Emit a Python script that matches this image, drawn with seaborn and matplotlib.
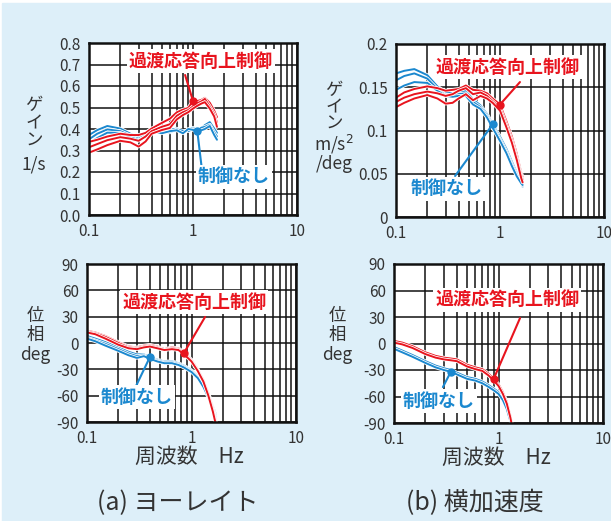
import numpy as np
import pandas as pd
import matplotlib
matplotlib.use("Agg")
import matplotlib.pyplot as plt
import matplotlib.patheffects as pe
import seaborn as sns
from matplotlib.patches import Rectangle
from matplotlib.ticker import LogLocator, NullFormatter

sns.set_theme(style="white")
plt.rcParams['font.family'] = ['Noto Sans CJK JP', 'DejaVu Sans']

RED = '#e8141e'
BLUE = '#1b88cf'
BG = '#ddeff9'
TXT = '#333333'
GRID = '#111111'

# ---- (a) yaw rate gain [1/s] ----
yaw_gain_freq = [0.1, 0.12, 0.15, 0.2, 0.25, 0.3, 0.35, 0.4, 0.5, 0.6,
                 0.7, 0.8, 0.9, 1.0, 1.1, 1.2, 1.3, 1.45, 1.6, 1.7]
yaw_gain_ctrl = [
    [0.340, 0.350, 0.365, 0.378, 0.372, 0.372, 0.382, 0.402, 0.428, 0.448,
     0.478, 0.490, 0.498, 0.530, 0.530, 0.535, 0.545, 0.522, 0.485, 0.455],
    [0.315, 0.330, 0.348, 0.362, 0.355, 0.345, 0.365, 0.390, 0.410, 0.422,
     0.462, 0.478, 0.488, 0.505, 0.520, 0.528, 0.540, 0.505, 0.470, 0.430],
    [0.290, 0.305, 0.325, 0.345, 0.338, 0.318, 0.342, 0.378, 0.395, 0.405,
     0.445, 0.465, 0.478, 0.495, 0.508, 0.518, 0.525, 0.495, 0.458, 0.410],
]
yaw_gain_none = [
    [0.372, 0.395, 0.414, 0.402, 0.378, 0.362, 0.382, 0.402, 0.386, 0.396,
     0.402, 0.386, 0.396, 0.406, 0.390, 0.402, 0.418, 0.432, 0.402, 0.382],
    [0.352, 0.378, 0.398, 0.390, 0.370, 0.354, 0.374, 0.396, 0.390, 0.384,
     0.398, 0.392, 0.390, 0.400, 0.388, 0.406, 0.410, 0.420, 0.385, 0.365],
    [0.333, 0.358, 0.383, 0.382, 0.362, 0.348, 0.366, 0.392, 0.380, 0.390,
     0.394, 0.380, 0.400, 0.396, 0.384, 0.394, 0.400, 0.414, 0.372, 0.350],
]

# ---- (b) lateral acceleration gain [m/s^2/deg] ----
lat_gain_freq = [0.1, 0.12, 0.15, 0.2, 0.25, 0.3, 0.35, 0.4, 0.47, 0.55,
                 0.65, 0.75, 0.85, 1.0, 1.15, 1.3, 1.45, 1.6, 1.65]
lat_gain_ctrl = [
    [0.138, 0.144, 0.148, 0.151, 0.149, 0.146, 0.147, 0.148, 0.152, 0.147,
     0.146, 0.143, 0.137, 0.130, 0.111, 0.093, 0.073, 0.051, 0.046],
    [0.133, 0.138, 0.142, 0.145, 0.143, 0.140, 0.142, 0.146, 0.149, 0.142,
     0.144, 0.140, 0.134, 0.126, 0.107, 0.089, 0.069, 0.048, 0.043],
    [0.127, 0.132, 0.137, 0.141, 0.137, 0.131, 0.132, 0.137, 0.142, 0.135,
     0.140, 0.137, 0.132, 0.123, 0.104, 0.086, 0.066, 0.045, 0.040],
]
lat_gain_none = [
    [0.166, 0.169, 0.171, 0.164, 0.151, 0.144, 0.143, 0.144, 0.146, 0.136,
     0.129, 0.119, 0.107, 0.093, 0.079, 0.064, 0.051, 0.039, 0.035],
    [0.158, 0.163, 0.166, 0.160, 0.148, 0.141, 0.141, 0.142, 0.143, 0.133,
     0.127, 0.117, 0.105, 0.090, 0.076, 0.061, 0.049, 0.040, 0.036],
    [0.147, 0.152, 0.156, 0.155, 0.146, 0.140, 0.139, 0.140, 0.140, 0.130,
     0.125, 0.115, 0.103, 0.088, 0.074, 0.059, 0.047, 0.039, 0.037],
]

# ---- (a) yaw rate phase [deg] ----
yaw_phase_freq = [0.1, 0.12, 0.15, 0.2, 0.25, 0.3, 0.35, 0.4, 0.47, 0.55,
                  0.65, 0.75, 0.85, 1.0, 1.15, 1.3, 1.45, 1.6, 1.72]
yaw_phase_ctrl = [
    [14, 12, 8, 1, -4, -5, -3, -2, -4, -7, -5, -6, -11, -19, -30, -42, -57, -74, -90],
    [13, 11, 7, 0, -5, -6, -4, -3, -5, -8, -6, -7, -12, -20, -31, -43, -58, -76, -92],
    [12, 10, 5, -2, -6, -7, -5, -4, -6, -8, -7, -8, -13, -21, -32, -44, -60, -78, -94],
]
yaw_phase_none = [
    [8, 5, 1, -5, -10, -13, -13, -16, -19, -21, -21, -23, -26, -31, -38, -47, -58, -72, -82],
    [6, 3, -1, -7, -12, -15, -14, -17, -20, -22, -22, -24, -27, -32, -39, -48, -60, -74, -84],
    [5, 2, -3, -9, -14, -17, -15, -18, -21, -23, -23, -25, -28, -33, -40, -50, -62, -76, -86],
]

# ---- (b) lateral acceleration phase [deg] ----
lat_phase_freq = [0.1, 0.12, 0.15, 0.2, 0.25, 0.3, 0.35, 0.4, 0.5, 0.6,
                  0.7, 0.8, 0.9, 1.0, 1.1, 1.2, 1.3, 1.36]
lat_phase_ctrl = [
    [3, 1, -3, -10, -14, -16, -17, -18, -24, -27, -29, -34, -40, -46, -55, -66, -82, -94],
    [1, -1, -5, -12, -16, -18, -19, -20, -26, -29, -31, -36, -42, -48, -57, -68, -84, -96],
]
lat_phase_none = [
    [-4, -8, -13, -20, -25, -28, -30, -33, -38, -40, -43, -47, -51, -55, -62, -72, -86, -96],
    [-6, -10, -15, -22, -27, -30, -32, -35, -40, -42, -45, -49, -53, -57, -64, -74, -88, -98],
]

LBL_CTRL = '過渡応答向上制御'
LBL_NONE = '制御なし'

W, H = 611, 521
fig = plt.figure(figsize=(W / 100, H / 100), dpi=100, facecolor='white')
fig.patches.append(Rectangle((2 / W, 0), 1 - 2 / W, 1 - 3 / H,
                             transform=fig.transFigure, color=BG, zorder=-5))


def px_rect(x0, x1, y0, y1):
    return [x0 / W, 1 - y1 / H, (x1 - x0) / W, (y1 - y0) / H]


def fig_text(x, y, s, **kw):
    fig.text(x / W, 1 - y / H, s, ha='center', va='center', color=TXT, **kw)


def long_table(freq, ctrl, none):
    rows = []
    for i, run in enumerate(none):
        for f, v in zip(freq, run):
            rows.append(('none', f'n{i}', f, v))
    for i, run in enumerate(ctrl):
        for f, v in zip(freq, run):
            rows.append(('ctrl', f'c{i}', f, v))
    return pd.DataFrame(rows, columns=['group', 'run', 'freq', 'value'])


def panel(rect, freq, ctrl, none, ylim, yticks, ylabels):
    ax = fig.add_axes(rect)
    df = long_table(freq, ctrl, none)
    sns.lineplot(data=df, x='freq', y='value', hue='group', units='run',
                 estimator=None, hue_order=['none', 'ctrl'],
                 palette={'ctrl': RED, 'none': BLUE}, legend=False,
                 sort=False, lw=1.4, ax=ax)
    # thin white halo keeps neighbouring runs distinguishable
    for ln in ax.lines:
        ln.set_path_effects([pe.Stroke(linewidth=2.6, foreground='white'),
                             pe.Normal()])
    ax.set_xscale('log')
    ax.set_xlim(0.1, 10)
    ax.set_ylim(*ylim)
    ax.set_xticks([0.1, 1, 10])
    ax.set_xticklabels(['0.1', '1', '10'])
    ax.xaxis.set_minor_locator(LogLocator(base=10, subs=np.arange(2, 10)))
    ax.xaxis.set_minor_formatter(NullFormatter())
    ax.set_yticks(yticks)
    ax.set_yticklabels(ylabels)
    ax.grid(True, which='both', axis='x', color=GRID, lw=1.1)
    ax.grid(True, which='major', axis='y', color=GRID, lw=1.1)
    ax.tick_params(which='both', length=0, labelsize=11,
                   labelcolor=TXT, pad=6)
    for s in ax.spines.values():
        s.set_color(GRID)
        s.set_linewidth(1.8)
    ax.set_facecolor('white')
    ax.set_xlabel('')
    ax.set_ylabel('')
    return ax


def callout(ax, text, color, xy, text_xy, line_end):
    ax.annotate('', xy=xy, xytext=line_end, textcoords='axes fraction',
                arrowprops=dict(arrowstyle='-', color=color, lw=1.5,
                                shrinkA=0, shrinkB=0), zorder=5)
    ax.plot([xy[0]], [xy[1]], 'o', color=color, ms=5, zorder=6)
    ax.text(*text_xy, text, transform=ax.transAxes, ha='center', va='center',
            color=color, fontsize=13, fontweight='bold', zorder=7,
            bbox=dict(boxstyle='square,pad=0.12', fc='white', ec='none'))


# top-left: yaw rate gain
ax1 = panel(px_rect(89, 297, 43, 215), yaw_gain_freq, yaw_gain_ctrl,
            yaw_gain_none, (0, 0.8), np.arange(0, 0.81, 0.1),
            [f'{v:.1f}' for v in np.arange(0, 0.81, 0.1)])
i = yaw_gain_freq.index(1.0)
callout(ax1, LBL_CTRL, RED, (yaw_gain_freq[i], yaw_gain_ctrl[0][i]),
        (0.538, 0.895), (0.462, 0.814))
i = yaw_gain_freq.index(1.1)
callout(ax1, LBL_NONE, BLUE, (yaw_gain_freq[i], yaw_gain_none[0][i]),
        (0.697, 0.221), (0.542, 0.273))

# top-right: lateral acceleration gain
ax2 = panel(px_rect(396, 604, 44, 217), lat_gain_freq, lat_gain_ctrl,
            lat_gain_none, (0, 0.2), [0, 0.05, 0.1, 0.15, 0.2],
            ['0', '0.05', '0.1', '0.15', '0.2'])
i = lat_gain_freq.index(1.0)
callout(ax2, LBL_CTRL, RED, (lat_gain_freq[i], lat_gain_ctrl[0][i]),
        (0.538, 0.867), (0.596, 0.780))
i = lat_gain_freq.index(0.85)
callout(ax2, LBL_NONE, BLUE, (lat_gain_freq[i], lat_gain_none[0][i]),
        (0.245, 0.162), (0.284, 0.237))

# bottom-left: yaw rate phase
ax3 = panel(px_rect(87, 296, 264, 422), yaw_phase_freq, yaw_phase_ctrl,
            yaw_phase_none, (-90, 90), np.arange(-90, 91, 30),
            [str(v) for v in range(-90, 91, 30)])
i = yaw_phase_freq.index(0.85)
callout(ax3, LBL_CTRL, RED, (yaw_phase_freq[i], yaw_phase_ctrl[0][i]),
        (0.512, 0.759), (0.565, 0.665))
i = yaw_phase_freq.index(0.4)
callout(ax3, LBL_NONE, BLUE, (yaw_phase_freq[i], yaw_phase_none[0][i]),
        (0.239, 0.158), (0.230, 0.215))

# bottom-right: lateral acceleration phase
ax4 = panel(px_rect(394, 603, 264, 423), lat_phase_freq, lat_phase_ctrl,
            lat_phase_none, (-90, 90), np.arange(-90, 91, 30),
            [str(v) for v in range(-90, 91, 30)])
i = lat_phase_freq.index(0.9)
callout(ax4, LBL_CTRL, RED, (lat_phase_freq[i], lat_phase_ctrl[0][i]),
        (0.541, 0.774), (0.603, 0.660))
i = lat_phase_freq.index(0.35)
callout(ax4, LBL_NONE, BLUE, (lat_phase_freq[i], lat_phase_none[1][i]),
        (0.215, 0.138), (0.234, 0.226))

# vertical axis titles, one glyph per line
for y, s in [(105, 'ゲ'), (123, 'イ'), (141, 'ン'), (164, '1/s')]:
    fig_text(34, y, s, fontsize=12.5)
for y, s in [(90, 'ゲ'), (107, 'イ'), (124, 'ン'), (144, 'm/s$^2$'), (164, '/deg')]:
    fig_text(334, y, s, fontsize=12.5)
for x in (35, 337):
    for y, s in [(316, '位'), (335, '相'), (355, 'deg')]:
        fig_text(x, y, s, fontsize=12.5)

# frequency axis titles and panel captions
fig_text(189, 457, '周波数　Hz', fontsize=15)
fig_text(496, 458, '周波数　Hz', fontsize=15)
fig_text(178, 503, '(a) ヨーレイト', fontsize=18)
fig_text(475, 503, '(b) 横加速度', fontsize=18)

fig.savefig('out.png', dpi=100, facecolor=fig.get_facecolor())
